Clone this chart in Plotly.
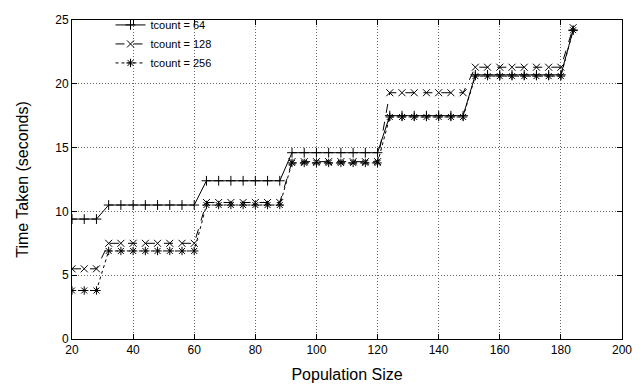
import plotly.graph_objects as go

population = [20, 24, 28, 32, 36, 40, 44, 48, 52, 56, 60,
              64, 68, 72, 76, 80, 84, 88,
              92, 96, 100, 104, 108, 112, 116, 120,
              124, 128, 132, 136, 140, 144, 148,
              152, 156, 160, 164, 168, 172, 176, 180, 184]

def steps(levels, counts):
    out = []
    for v, c in zip(levels, counts):
        out += [v] * c
    return out

group_sizes = [3, 8, 7, 8, 7, 8, 1]
t64_levels = [9.4, 10.5, 12.4, 14.6, 17.5, 20.7, 24.2]
t128_levels = [5.5, 7.5, 10.7, 13.9, 19.3, 21.3, 24.4]
t256_levels = [3.8, 6.9, 10.5, 13.8, 17.4, 20.6, 24.2]

t64 = steps(t64_levels, group_sizes)
t128 = steps(t128_levels, group_sizes)
t256 = steps(t256_levels, group_sizes)

series = [
    ("tcount = 64", t64, "solid", "cross-thin-open"),
    ("tcount = 128", t128, "dash", "x-thin-open"),
    ("tcount = 256", t256, "dot", "asterisk-open"),
]

fig = go.Figure()
for name, ys, dash, sym in series:
    fig.add_trace(go.Scatter(
        x=population, y=ys, name=name, mode="lines+markers",
        line=dict(color="black", width=1, dash=dash),
        marker=dict(symbol=sym, size=7, color="black",
                    line=dict(color="black", width=1)),
    ))

axis_common = dict(
    showline=True, linecolor="black", linewidth=1, mirror="ticks",
    ticks="inside", ticklen=5, tickcolor="black", tickwidth=1,
    showgrid=True, gridcolor="#666", griddash="1px,2px", gridwidth=1,
    zeroline=False,
    tickfont=dict(family="Liberation Sans, Arial, sans-serif", size=12, color="black"),
)

fig.update_layout(
    width=643, height=391,
    margin=dict(l=72, r=21, t=10, b=48),
    paper_bgcolor="white", plot_bgcolor="white",
    font=dict(family="Liberation Sans, Arial, sans-serif", color="black"),
    xaxis=dict(range=[20, 200], dtick=20, tick0=20,
               title=dict(text="Population Size", font=dict(size=16), standoff=12),
               **axis_common),
    yaxis=dict(range=[0, 25], dtick=5, tick0=0,
               title=dict(text="Time Taken (seconds)", font=dict(size=16), standoff=22),
               **axis_common),
    legend=dict(x=0.07, y=1.03, xanchor="left", yanchor="top",
                bgcolor="rgba(255,255,255,0)", font=dict(size=11),
                tracegroupgap=0),
    showlegend=True,
)

fig.write_html("out.html", config={"displayModeBar": False},
               post_script="document.body.style.margin='0';")
